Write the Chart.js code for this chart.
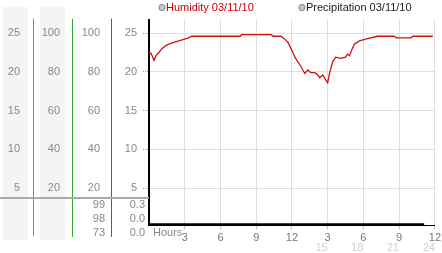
<!DOCTYPE html>
<html>
<head>
<meta charset="utf-8">
<script src="https://cdn.jsdelivr.net/npm/chart.js@4"></script>
<style>
  html, body { margin: 0; padding: 0; background: #fff; }
  #wrap { width: 442px; height: 253px; }
</style>
</head>
<body>
<div id="wrap"><canvas id="humChart" width="442" height="253"></canvas></div>
<script>
// readings (hour of day, value)
const humHours = [0, 0.17, 0.42, 0.58, 0.83, 1.08, 1.42, 1.67, 2.08, 2.5, 2.92, 3.33, 3.58, 7.67, 7.75,
    10.25, 10.42, 11.08, 11.42, 11.67, 12.0, 12.25, 12.5, 12.75, 13.08, 13.33, 13.58, 13.92, 14.17,
    14.33, 14.58, 14.83, 15.0, 15.17, 15.42, 15.67, 16.08, 16.5, 16.67, 16.83, 17.0, 17.25, 17.67,
    18.33, 19.17, 20.58, 20.75, 22.0, 22.17, 23.83];
const humidity = [22.5, 22.4, 21.5, 22.1, 22.5, 23.0, 23.4, 23.6, 23.8, 24.0, 24.2, 24.4, 24.6, 24.6, 24.8,
    24.8, 24.6, 24.6, 24.2, 23.8, 22.75, 21.9, 21.3, 20.7, 19.8, 20.25, 19.9, 19.9, 19.6,
    19.25, 19.6, 19.0, 18.6, 19.9, 21.3, 21.9, 21.75, 21.9, 22.3, 22.1, 22.75, 23.6, 24.0,
    24.3, 24.6, 24.6, 24.4, 24.4, 24.6, 24.6];
const precipHours = [0, 6, 12, 18, 23.1];
const precipitation = [0, 0, 0, 0, 0];

const seriesNames = ['Humidity 03/11/10', 'Precipitation 03/11/10'];
const valueTicks = [5, 10, 15, 20, 25];
const percentTicks = [20, 40, 60, 80, 100];
const hourTicks = [0, 3, 6, 9, 12, 15, 18, 21, 24];
const lateHourTicks = [15, 18, 21, 24];
const currentPercent = ['99', '98', '73'];
const currentValue = ['0.3', '0.0', '0.0'];

Chart.defaults.font.family = "'Liberation Sans', Arial, sans-serif";
Chart.defaults.font.size = 11;
Chart.defaults.color = '#888';

function toPoints(xs, ys) {
    return xs.map((x, i) => ({ x: x, y: ys[i] }));
}

function setTicks(list) {
    return function (scale) {
        scale.ticks = list.map(v => ({ value: v }));
    };
}

function setWidth(w) {
    return function (scale) { scale.width = w; };
}

// side panel: shaded columns, coloured rules, the current readings and the legend
const panelPlugin = {
    id: 'panel',
    beforeDraw(chart) {
        const ctx = chart.ctx;
        ctx.save();
        ctx.fillStyle = '#f4f4f4';
        ctx.fillRect(3, 7, 25, 233);
        ctx.fillRect(40, 7, 25, 233);
        ctx.restore();
    },
    afterDraw(chart) {
        const ctx = chart.ctx;
        const area = chart.chartArea;
        const s = chart.scales;
        ctx.save();

        // rules run on below the plot
        [['yA', '#22a6d2', 236], ['yB', '#2fa82f', 237], ['yC', '#cc2e2e', 237]].forEach(r => {
            const x = Math.round(s[r[0]].right) + 0.5;
            ctx.strokeStyle = r[1];
            ctx.lineWidth = 1;
            ctx.beginPath();
            ctx.moveTo(x, area.top - 1);
            ctx.lineTo(x, r[2]);
            ctx.stroke();
        });

        // divider above the current readings
        const yDiv = Math.round(s.y.getPixelForValue(3.75));
        ctx.fillStyle = '#aaa';
        ctx.fillRect(0, yDiv - 1, area.left, 2);

        ctx.font = "11px 'Liberation Sans', Arial, sans-serif";
        ctx.fillStyle = '#888';
        ctx.textAlign = 'right';
        ctx.textBaseline = 'middle';
        currentPercent.forEach((t, i) => ctx.fillText(t, 105, yDiv + 7 + i * 14));
        currentValue.forEach((t, i) => ctx.fillText(t, 145, yDiv + 7 + i * 14));

        ctx.textAlign = 'left';
        ctx.fillText('Hours', area.left + 4, area.bottom + 8);

        // legend
        const items = [
            { x: area.left + 13, color: '#cc0000' },
            { x: area.left + 153, color: '#222' }
        ];
        items.forEach((it, i) => {
            ctx.beginPath();
            ctx.arc(it.x, 7.5, 3.2, 0, Math.PI * 2);
            ctx.fillStyle = '#c4c4c4';
            ctx.fill();
            ctx.strokeStyle = '#8c8c8c';
            ctx.lineWidth = 1;
            ctx.stroke();
            ctx.fillStyle = it.color;
            ctx.fillText(chart.data.datasets[i].label, it.x + 4, 8);
        });
        ctx.restore();
    }
};

const ctx = document.getElementById('humChart').getContext('2d');
new Chart(ctx, {
    type: 'line',
    data: {
        datasets: [{
            label: seriesNames[0],
            data: toPoints(humHours, humidity),
            borderColor: '#cc1111',
            borderWidth: 1.3,
            pointRadius: 0,
            tension: 0,
            yAxisID: 'y'
        }, {
            label: seriesNames[1],
            data: toPoints(precipHours, precipitation),
            borderColor: '#000',
            borderWidth: 2,
            pointRadius: 0,
            tension: 0,
            yAxisID: 'yP'
        }]
    },
    options: {
        responsive: false,
        animation: false,
        devicePixelRatio: 1,
        layout: { padding: { top: 13, right: 4, left: 0, bottom: 0 } },
        plugins: { legend: { display: false }, tooltip: { enabled: false } },
        scales: {
            x: {
                type: 'linear',
                position: 'bottom',
                min: 0, max: 24,
                afterBuildTicks: setTicks(hourTicks),
                afterFit: function (scale) { scale.height = 16; },
                ticks: {
                    color: '#777',
                    padding: 1,
                    maxRotation: 0,
                    callback: v => v === 0 ? '' : String(v % 12 || 12)
                },
                grid: {
                    color: '#dedede',
                    tickLength: 5,
                    tickColor: c => c.tick && c.tick.value === 0 ? 'rgba(0,0,0,0)' : '#999',
                    tickBorderDash: [1, 1]
                },
                border: { color: '#000', width: 1 }
            },
            x2: {
                type: 'linear',
                position: 'bottom',
                weight: 1,
                min: 0, max: 24,
                afterBuildTicks: setTicks(lateHourTicks),
                afterFit: function (scale) { scale.height = 12; },
                ticks: { color: '#cfcfcf', padding: 0, align: 'end', maxRotation: 0 },
                grid: { display: false, drawTicks: false },
                border: { display: false }
            },
            yA: {
                position: 'left',
                weight: 4,
                min: 0.25, max: 26.75,
                afterBuildTicks: setTicks(valueTicks),
                afterFit: setWidth(33),
                ticks: { padding: 13 },
                grid: { display: false, drawTicks: false },
                border: { display: false }
            },
            yB: {
                position: 'left',
                weight: 3,
                min: 1, max: 107,
                afterBuildTicks: setTicks(percentTicks),
                afterFit: setWidth(39),
                ticks: { padding: 12 },
                grid: { display: false, drawTicks: false },
                border: { display: false }
            },
            yC: {
                position: 'left',
                weight: 2,
                min: 1, max: 107,
                afterBuildTicks: setTicks(percentTicks),
                afterFit: setWidth(39),
                ticks: { padding: 11 },
                grid: { display: false, drawTicks: false },
                border: { display: false }
            },
            y: {
                position: 'left',
                weight: 1,
                min: 0.25, max: 26.75,
                afterBuildTicks: setTicks(valueTicks),
                afterFit: setWidth(38),
                ticks: { padding: 6 },
                grid: {
                    color: '#dedede',
                    tickLength: 6,
                    tickColor: '#999',
                    tickBorderDash: [1, 1]
                },
                border: { color: '#000', width: 2 }
            },
            yP: {
                display: false,
                min: -0.04, max: 10
            }
        }
    },
    plugins: [panelPlugin]
});
</script>
</body>
</html>
